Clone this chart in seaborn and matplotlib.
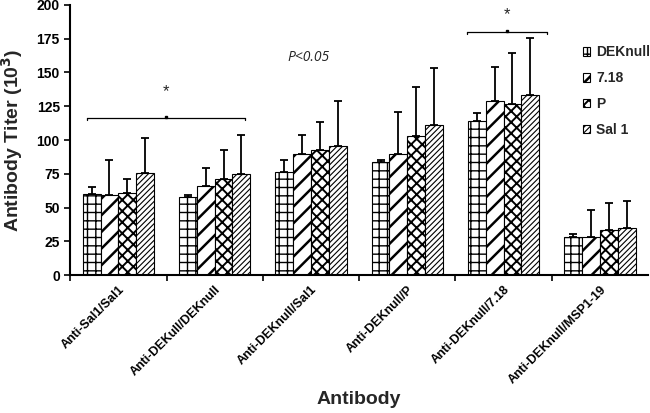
import pandas as pd
import numpy as np
import matplotlib.pyplot as plt
import seaborn as sns

# --- data ---
antibodies = ["Anti-Sal1/Sal1", "Anti-DEKull/DEKnull", "Anti-DEKnull/Sal1",
              "Anti-DEKnull/P", "Anti-DEKnull/7.18", "Anti-DEKnull/MSP1-19"]
groups = ["DEKnull", "7.18", "P", "Sal 1"]

mean_deknull = [60, 57.5, 76, 84, 114, 28.5]
mean_718 = [59, 66, 90, 90, 129, 28.5]
mean_p = [61, 71, 92.5, 103, 126.5, 33]
mean_sal1 = [75.5, 75, 95.5, 111, 133, 35]

top_deknull = [65, 59.5, 85, 85.5, 120, 30.5]
top_718 = [85.5, 79.5, 104, 120.5, 154, 48]
top_p = [71, 92.5, 113.5, 139.5, 164.5, 53.5]
top_sal1 = [101.5, 104, 129, 153, 175.5, 55]

HATCHES = ["++", "//", "xxx", "//////"]
HATCH_LW = [1.0, 1.8, 1.4, 0.8]

means = [mean_deknull, mean_718, mean_p, mean_sal1]
tops = [top_deknull, top_718, top_p, top_sal1]

df = pd.DataFrame({
    "Antibody": antibodies * len(groups),
    "Group": np.repeat(groups, len(antibodies)),
    "Titer": np.concatenate(means),
    "Top": np.concatenate(tops),
})

sns.set_theme(style="white")
plt.rcParams['font.family'] = ['Liberation Sans', 'DejaVu Sans']
plt.rcParams['hatch.linewidth'] = 1.2

fig = plt.figure(figsize=(6.5, 4.13), dpi=100)
ax = fig.add_axes([0.108, 0.334, 0.889, 0.654])

sns.barplot(data=df, x="Antibody", y="Titer", hue="Group", order=antibodies,
            hue_order=groups, errorbar=None, width=0.74,
            palette=["white"] * 4, edgecolor="black", linewidth=0.8,
            legend=True, ax=ax)


def style_patch(p, gi):
    p.set_hatch(HATCHES[gi])
    if hasattr(p, "set_hatch_linewidth"):
        p.set_hatch_linewidth(HATCH_LW[gi])


# hatches + one-sided error bars
bar_containers = list(ax.containers)
for gi, cont in enumerate(bar_containers):
    xs = []
    for bar in cont:
        style_patch(bar, gi)
        xs.append(bar.get_x() + bar.get_width() / 2)
    m = np.array(means[gi])
    t = np.array(tops[gi])
    ax.errorbar(xs, m, yerr=[np.zeros_like(m), t - m], fmt="none",
                ecolor="black", elinewidth=1.3, capsize=3, capthick=1.3,
                zorder=3)

# significance brackets
def bracket(x0, x1, y, star_y):
    ax.plot([x0, x1], [y, y], color="black", lw=0.9)
    ax.plot([x0, x0], [y, y - 1.5], color="black", lw=0.9)
    ax.plot([x1, x1], [y, y - 1.5], color="black", lw=0.9)
    xm = (x0 + x1) / 2
    ax.plot([xm], [y + 1], marker="s", ms=1.5, color="black")
    ax.text(xm, star_y, "*", ha="center", va="center", fontsize=12)

bracket(-0.33, 1.31, 116, 136)
bracket(3.62, 4.45, 180, 193)
ax.text(1.97, 161, "P<0.05", ha="center", va="center", fontsize=10,
        style="italic", family=['Open Sans', 'DejaVu Sans'])

# axes formatting
ax.set_xlim(-0.5, 5.5)
ax.set_ylim(0, 200)
ax.set_yticks(range(0, 201, 25))
ax.set_xticks(range(len(antibodies)))
ax.set_xticks(np.arange(-0.5, 5.0, 1.0), minor=True)
ax.set_xticklabels(antibodies, rotation=45, ha="right", rotation_mode="anchor",
                   fontsize=9, fontweight="bold")
ax.tick_params(axis="x", which="major", length=0, pad=6)
ax.tick_params(axis="x", which="minor", length=4, width=1.2, color="black",
               direction="out")
ax.tick_params(axis="y", length=4, width=1.2, color="black", direction="out",
               labelsize=10)
ax.tick_params(axis="both", colors="black")
for lab in ax.get_yticklabels():
    lab.set_fontweight("bold")
ax.xaxis.set_ticks_position("bottom")
ax.yaxis.set_ticks_position("left")

ax.set_ylabel("Antibody Titer (10$^\\mathbf{3}$)", fontsize=14,
              fontweight="bold", labelpad=8)
ax.set_xlabel("Antibody", fontsize=14, fontweight="bold")
ax.xaxis.set_label_coords(0.5, -0.43)

for s in ["top", "right"]:
    ax.spines[s].set_visible(False)
for s in ["left", "bottom"]:
    ax.spines[s].set_color("black")
    ax.spines[s].set_linewidth(1.5)

leg = ax.legend(loc="upper right", bbox_to_anchor=(1.0, 0.89),
                bbox_transform=fig.transFigure, borderaxespad=0, borderpad=0,
                frameon=False, handlelength=0.55, handleheight=0.55,
                handletextpad=0.4, labelspacing=0.85,
                prop={"weight": "bold", "size": 10})
for gi, h in enumerate(leg.legend_handles):
    style_patch(h, gi)
    h.set_edgecolor("black")
    h.set_facecolor("white")

fig.savefig("out.png", dpi=100)
